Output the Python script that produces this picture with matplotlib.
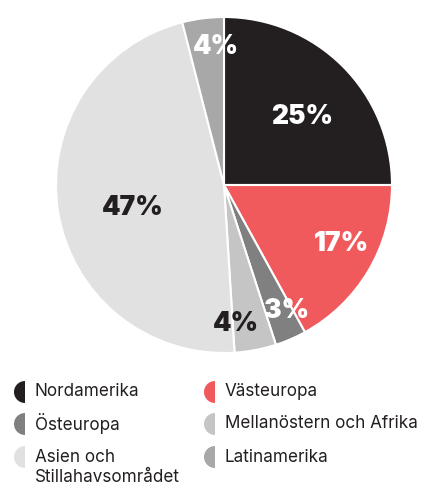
import matplotlib
matplotlib.use("Agg")
import matplotlib.pyplot as plt
from matplotlib.patches import Wedge
import numpy as np

categories = ["Nordamerika", "Västeuropa", "Östeuropa", "Mellanöstern och Afrika",
              "Asien och\nStillahavsområdet", "Latinamerika"]
values = [25, 17, 3, 4, 47, 4]
colors = ["#231f20", "#f15a5d", "#808080", "#c5c5c5", "#e1e1e1", "#a8a8a8"]
label_colors = ["white", "white", "white", "#231f20", "#231f20", "white"]
label_dist = [0.62, 0.78, 0.84, 0.83, 0.56, 0.82]
label_angle_offset = [-4, 4, 3, -6, 5, -4]

W, H = 422, 487
fig = plt.figure(figsize=(W / 100, H / 100), dpi=100)
fig.patch.set_facecolor("white")

cx, cy, r = 224, 185, 168
ax = fig.add_axes([(cx - r) / W, (H - cy - r) / H, 2 * r / W, 2 * r / H])
wedges, _ = ax.pie(values, colors=colors, startangle=90, counterclock=False,
                   wedgeprops=dict(edgecolor="white", linewidth=1.5))
ax.set_xlim(-1, 1)
ax.set_ylim(-1, 1)
ax.set_aspect("equal")
ax.axis("off")

total = sum(values)
for w, v, c, d, off in zip(wedges, values, label_colors, label_dist, label_angle_offset):
    mid = np.deg2rad((w.theta1 + w.theta2) / 2 + off)
    ax.text(d * np.cos(mid), d * np.sin(mid), f"{round(100 * v / total)}%",
            ha="center", va="center", color=c, fontsize=19, fontweight="black",
            family=["Inter", "DejaVu Sans"])

# legend
lax = fig.add_axes([0, 0, 1, 1])
lax.set_xlim(0, W)
lax.set_ylim(H, 0)
lax.axis("off")
positions = [(25, 392), (215, 392), (25, 424), (215, 424), (25, 457), (215, 457)]
for (x, y), lab, col in zip(positions, categories, colors):
    lax.add_patch(Wedge((x, y), 11, 90, 270, facecolor=col, edgecolor="none"))
    lines = lab.split("\n")
    for i, line in enumerate(lines):
        lax.text(x + 10, y + i * 21, line, ha="left", va="center", fontsize=12.3,
                 color="#231f20", family=["Inter", "DejaVu Sans"])

fig.savefig("out.png", dpi=100)
